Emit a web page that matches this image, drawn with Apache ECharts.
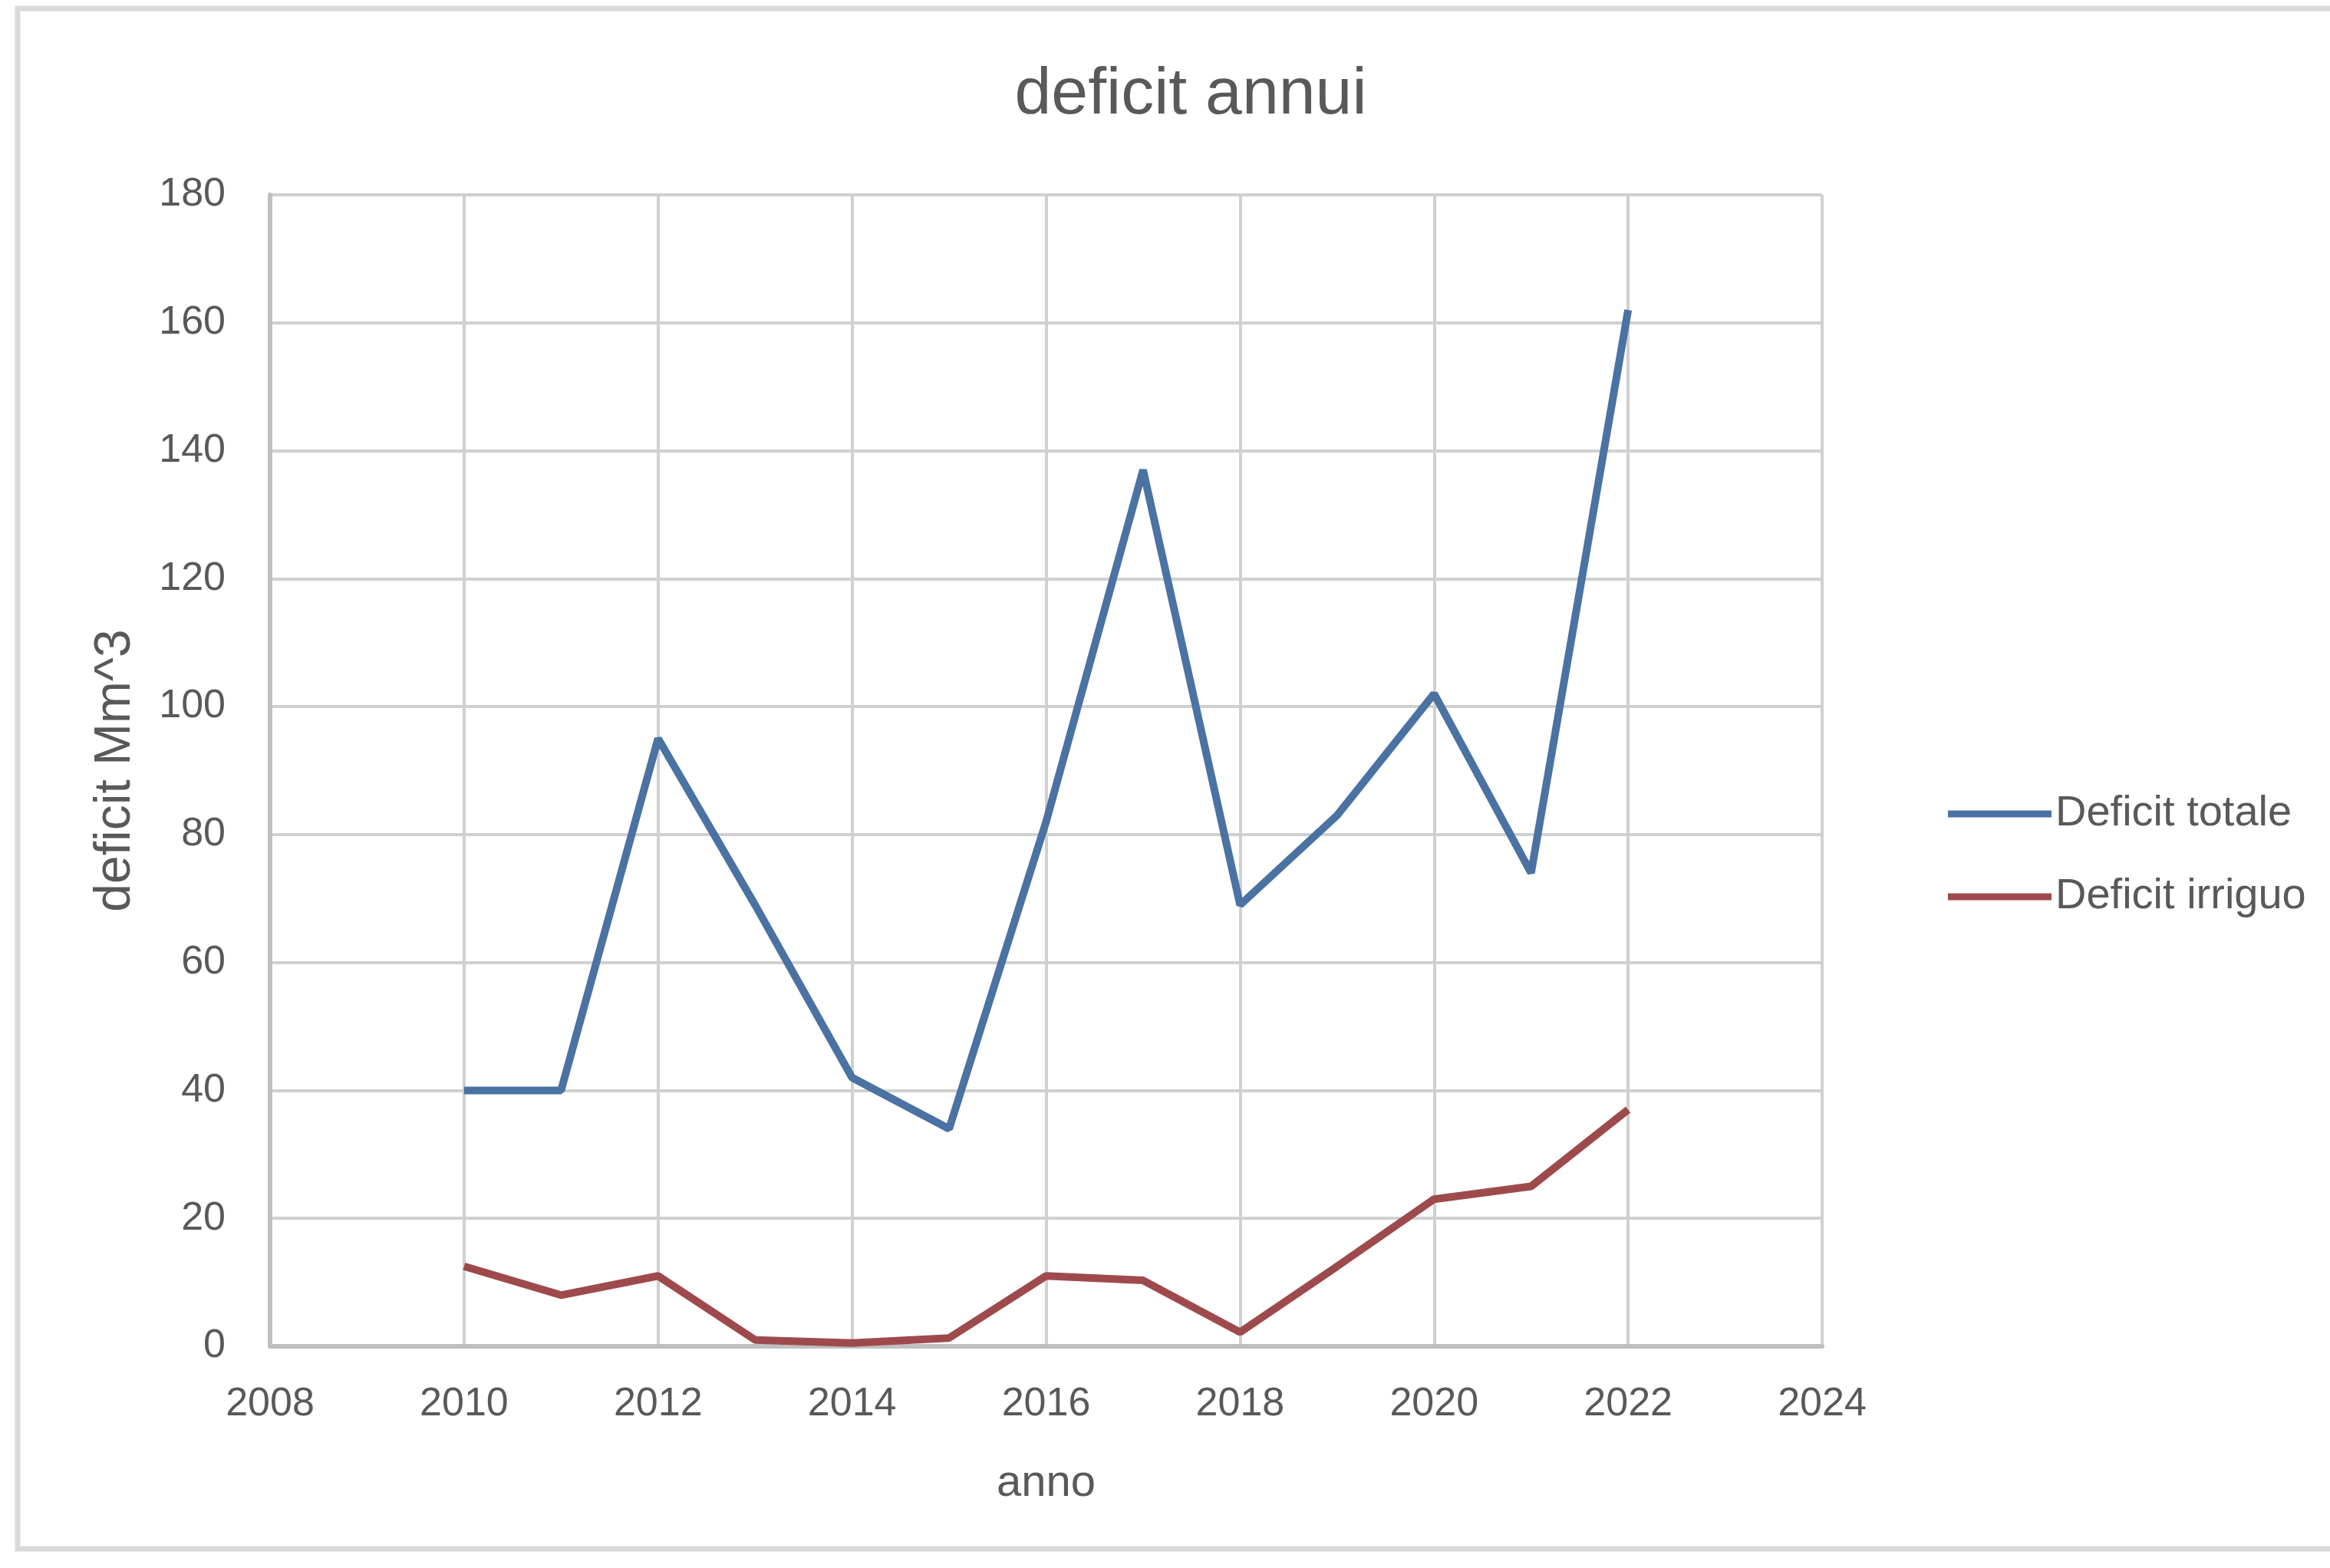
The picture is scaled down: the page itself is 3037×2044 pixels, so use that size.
<!DOCTYPE html>
<html>
<head>
<meta charset="utf-8">
<script src="https://cdn.jsdelivr.net/npm/echarts@6/dist/echarts.min.js"></script>
<style>
html,body{margin:0;padding:0;background:#fff;}
#chart{width:3037px;height:2044px;}
</style>
</head>
<body>
<div id="chart"></div>
<script>
// dati
var anni = [2010, 2011, 2012, 2013, 2014, 2015, 2016, 2017, 2018, 2019, 2020, 2021, 2022];
var deficitTotale = [40, 40, 95, 69, 42, 34, 82, 137, 69, 83, 102, 74, 162];
var deficitIrriguo = [12.5, 8, 11, 1, 0.5, 1.3, 11, 10.3, 2.2, 12.5, 23, 25, 37];
var nomiSerie = ['Deficit totale', 'Deficit irriguo'];

function coppie(vals){
	return anni.map(function(a, i){ return [a, vals[i]]; });
}

var grigio = '#595959';
var font = 'Liberation Sans';

var chart = echarts.init(document.getElementById('chart'));
chart.setOption({
	backgroundColor: '#fff',
	animation: false,
	title: {
		text: 'deficit annui',
		left: 1547,
		top: 76,
		textAlign: 'center',
		textStyle: {color: grigio, fontFamily: font, fontSize: 86, fontWeight: 'normal'}
	},
	graphic: [{
		type: 'rect',
		shape: {x: 23, y: 11, width: 3100, height: 2008},
		style: {fill: 'none', stroke: '#d9d9d9', lineWidth: 7},
		silent: true
	}],
	legend: {
		orient: 'vertical',
		left: 2534,
		top: 1028,
		itemWidth: 135,
		itemHeight: 9,
		itemGap: 52,
		icon: 'rect',
		data: nomiSerie,
		textStyle: {color: grigio, fontFamily: font, fontSize: 56}
	},
	grid: {left: 352, right: 662, top: 254, bottom: 289},
	xAxis: {
		type: 'value',
		min: 2008,
		max: 2024,
		interval: 2,
		name: 'anno',
		nameLocation: 'middle',
		nameGap: 150,
		nameTextStyle: {color: grigio, fontFamily: font, fontSize: 58},
		axisLine: {lineStyle: {color: '#bfbfbf', width: 6}},
		axisTick: {show: false},
		axisLabel: {
			color: grigio, fontFamily: font, fontSize: 52, margin: 50,
			formatter: function(v){ return String(v); }
		},
		splitLine: {show: true, lineStyle: {color: '#d0d0d0', width: 4}}
	},
	yAxis: {
		type: 'value',
		min: 0,
		max: 180,
		interval: 20,
		name: 'deficit Mm^3',
		nameLocation: 'middle',
		nameGap: 168,
		nameTextStyle: {color: grigio, fontFamily: font, fontSize: 66},
		axisLine: {show: true, lineStyle: {color: '#bfbfbf', width: 6}},
		axisTick: {show: false},
		axisLabel: {color: grigio, fontFamily: font, fontSize: 52, margin: 58},
		splitLine: {show: true, lineStyle: {color: '#d0d0d0', width: 4}}
	},
	series: [{
		name: nomiSerie[0],
		type: 'line',
		data: coppie(deficitTotale),
		showSymbol: false,
		symbol: 'none',
		itemStyle: {color: '#4a72a3'},
		lineStyle: {color: '#4a72a3', width: 10}
	},{
		name: nomiSerie[1],
		type: 'line',
		data: coppie(deficitIrriguo),
		showSymbol: false,
		symbol: 'none',
		itemStyle: {color: '#9e4a4d'},
		lineStyle: {color: '#9e4a4d', width: 10}
	}]
});
</script>
</body>
</html>
